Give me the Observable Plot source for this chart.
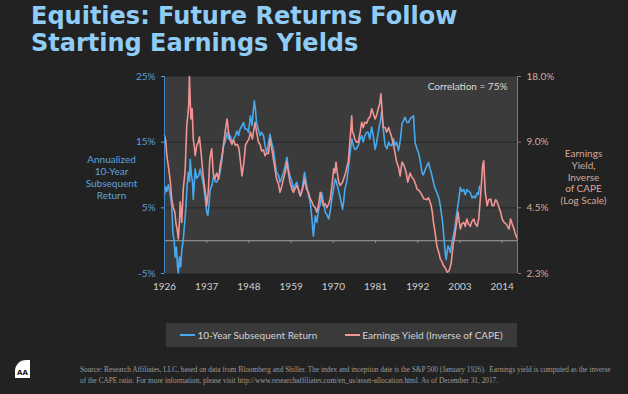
<!DOCTYPE html>
<html><head><meta charset="utf-8">
<script src="https://cdn.jsdelivr.net/npm/d3@7"></script>
<script src="https://cdn.jsdelivr.net/npm/@observablehq/plot@0.6"></script>
<style>
html,body{margin:0;padding:0;background:#222;}
#wrap{position:relative;width:628px;height:394px;overflow:hidden;background:#222222;font-family:Lato,sans-serif;}
#title{position:absolute;left:31px;top:3px;font-family:"DejaVu Sans",sans-serif;font-weight:bold;font-size:24px;line-height:27px;color:#8fcdf7;white-space:nowrap;}
#chart{position:absolute;left:0;top:0;}
#legend{position:absolute;left:166px;top:323px;width:351px;height:24px;background:#3a3a3a;display:flex;align-items:center;justify-content:center;gap:28px;font-size:10px;color:#d2d2d2;}
#legend .item{display:flex;align-items:center;}
#legend .sw{display:inline-block;width:15px;height:2px;margin-right:2px;}
#source{position:absolute;left:80px;top:364px;font-family:"Liberation Serif","DejaVu Serif",serif;font-size:7.3px;line-height:11px;color:#9c9c9c;white-space:nowrap;}
#logo{position:absolute;left:0;top:0;}
</style></head>
<body>
<div id="wrap">
  <div id="title">Equities: Future Returns Follow<br>Starting Earnings Yields</div>
  <div id="chart"></div>
  <div id="legend"></div>
  <svg id="logo" width="40" height="394" viewBox="0 0 40 394">
    <path d="M15,378 L15,371 A11,11 0 0 1 26,360 L30,360 L30,378 Z" fill="#ffffff"/>
    <text x="22.5" y="375" text-anchor="middle" font-family="DejaVu Sans" font-weight="bold" font-size="7" fill="#111">AA</text>
  </svg>
  <div id="source">Source: Research Affiliates, LLC, based on data from Bloomberg and Shiller. The index and inception date is the S&amp;P 500 (January 1926).&nbsp; Earnings yield is computed as the inverse<br>of the CAPE ratio. For more information, please visit http://www.researchaffiliates.com/en_us/asset-allocation.html. As of December 31, 2017.</div>
</div>
<script>
// ---- Data ----
const retYears = [1926.0,1926.3,1926.6,1927.0,1927.5,1927.9,1928.2,1928.5,1928.8,1929.1,1929.4,1929.6,1929.9,1930.2,1930.5,1930.9,1931.3,1931.6,1931.9,1932.2,1932.5,1932.7,1933.0,1933.3,1933.5,1933.8,1934.0,1934.4,1934.9,1935.3,1935.8,1936.2,1936.6,1937.0,1937.3,1937.6,1937.9,1938.4,1938.8,1939.2,1939.6,1940.1,1940.5,1941.0,1941.4,1941.8,1942.3,1942.7,1943.1,1943.6,1944.0,1944.5,1944.9,1945.3,1945.7,1946.2,1946.6,1947.0,1947.5,1947.9,1948.4,1948.8,1949.1,1949.4,1949.7,1950.0,1950.4,1950.9,1951.3,1951.8,1952.2,1952.6,1953.0,1953.5,1953.9,1954.4,1954.8,1955.2,1955.7,1956.1,1956.5,1957.0,1957.5,1957.9,1958.3,1958.7,1959.2,1959.6,1960.0,1960.5,1961.0,1961.4,1961.9,1962.5,1963.1,1963.5,1964.0,1964.4,1964.8,1965.3,1965.7,1966.2,1966.6,1967.0,1967.5,1967.9,1968.3,1968.8,1969.2,1969.6,1970.1,1970.5,1970.8,1971.2,1971.7,1972.0,1972.4,1972.7,1973.0,1973.5,1973.9,1974.3,1974.8,1975.2,1975.6,1976.0,1976.5,1977.0,1977.4,1977.8,1978.2,1978.7,1979.1,1979.5,1980.0,1980.4,1980.9,1981.3,1981.7,1982.2,1982.6,1983.0,1983.5,1984.0,1984.4,1984.8,1985.2,1985.7,1986.1,1986.5,1987.0,1987.5,1987.9,1988.3,1988.7,1989.2,1989.6,1990.0,1990.5,1990.9,1991.3,1991.8,1992.2,1992.7,1993.1,1993.4,1993.7,1994.0,1994.4,1994.8,1995.2,1995.5,1996.1,1996.5,1997.0,1997.5,1997.9,1998.2,1998.5,1999.0,1999.2,1999.4,1999.7,1999.9,2000.2,2000.5,2000.9,2001.3,2001.6,2001.9,2002.2,2002.7,2003.1,2003.5,2004.0,2004.4,2004.8,2005.3,2005.7,2006.2,2006.6,2007.0,2007.5,2007.8,2008.1];
const retValues = [7.0,8.2,7.5,8.5,7.0,5.3,1.0,0.2,-2.5,-1.0,-4.0,-4.9,-2.5,-4.0,-1.5,0.2,3.0,5.3,8.5,10.4,9.0,12.4,10.0,8.9,6.3,9.0,10.9,9.5,9.9,10.9,9.5,8.3,6.5,4.3,3.9,5.5,7.8,8.5,9.9,9.0,8.9,9.5,10.4,12.5,14.5,15.0,16.5,15.5,16.0,15.0,15.5,16.0,16.7,16.0,17.0,17.5,18.0,17.0,17.0,16.5,19.0,17.5,19.5,21.3,20.0,18.0,17.0,16.0,16.5,16.0,14.5,13.4,14.5,16.2,15.0,13.9,12.0,10.4,10.0,8.9,9.5,10.4,11.5,12.7,11.0,9.9,9.0,7.8,8.5,8.9,7.5,6.8,8.0,10.4,8.3,7.0,5.8,3.5,0.7,3.8,2.8,4.8,5.5,7.3,5.5,4.3,4.0,3.3,4.5,6.3,8.0,9.4,8.9,8.0,6.8,6.0,4.8,6.0,7.8,9.0,10.9,13.0,15.5,14.5,13.9,14.0,14.5,15.5,16.0,15.0,16.0,16.5,16.5,15.5,17.3,16.0,13.9,15.0,16.5,18.0,19.7,17.0,14.5,14.0,15.0,14.5,14.5,15.5,14.5,15.0,13.7,15.5,17.8,18.3,18.8,18.0,18.0,18.5,18.8,19.0,15.0,14.0,13.4,12.0,10.4,10.0,10.4,10.9,11.4,11.9,11.0,10.4,8.9,8.0,7.3,6.5,5.3,4.0,2.7,-0.8,-2.0,-2.9,-1.5,-0.8,-1.2,-1.8,-0.3,0.8,1.7,3.0,4.3,6.3,8.1,7.5,7.8,7.0,7.8,7.5,7.3,6.5,6.8,6.5,7.3,7.0,8.3];

const eyYears = [1926.0,1926.3,1926.6,1927.0,1927.5,1927.9,1928.3,1928.7,1929.0,1929.3,1929.6,1929.9,1930.1,1930.5,1930.9,1931.2,1931.4,1931.8,1932.1,1932.3,1932.5,1932.7,1932.9,1933.2,1933.5,1933.8,1934.0,1934.4,1934.8,1935.1,1935.4,1935.7,1936.0,1936.3,1936.7,1937.0,1937.4,1937.8,1938.3,1938.7,1939.1,1939.6,1940.1,1940.5,1941.0,1941.4,1941.8,1942.3,1942.7,1943.1,1943.6,1944.0,1944.5,1945.0,1945.4,1945.8,1946.2,1946.7,1947.1,1947.5,1948.0,1948.4,1948.9,1949.3,1949.6,1950.0,1950.5,1950.9,1951.3,1951.8,1952.2,1952.6,1953.1,1953.5,1953.9,1954.4,1954.8,1955.2,1955.7,1956.1,1956.5,1957.0,1957.5,1957.9,1958.3,1958.7,1959.2,1959.6,1960.0,1960.5,1961.0,1961.4,1961.9,1962.5,1963.0,1963.5,1964.0,1964.4,1964.8,1965.3,1965.7,1966.2,1966.6,1967.0,1967.4,1967.9,1968.3,1968.8,1969.2,1969.6,1970.1,1970.4,1970.7,1971.0,1971.4,1971.8,1972.1,1972.4,1972.8,1973.2,1973.6,1973.9,1974.3,1974.6,1974.8,1975.0,1975.3,1975.6,1976.0,1976.5,1977.0,1977.4,1977.8,1978.2,1978.7,1979.1,1979.6,1980.0,1980.4,1980.9,1981.3,1981.7,1982.1,1982.4,1982.7,1983.0,1983.5,1983.9,1984.4,1984.8,1985.2,1985.7,1986.1,1986.5,1987.0,1987.4,1987.9,1988.3,1988.7,1989.0,1989.4,1990.0,1990.5,1990.9,1991.4,1991.8,1992.3,1992.7,1993.2,1993.6,1994.0,1994.4,1994.8,1995.2,1995.5,1995.8,1996.1,1996.5,1997.0,1997.5,1997.9,1998.3,1998.7,1999.1,1999.4,1999.7,2000.0,2000.3,2000.7,2001.0,2001.3,2001.6,2001.9,2002.2,2002.5,2002.8,2003.1,2003.5,2004.0,2004.4,2004.8,2005.2,2005.7,2006.1,2006.6,2007.0,2007.5,2007.9,2008.3,2008.6,2008.9,2009.2,2009.4,2009.6,2010.1,2010.5,2011.0,2011.4,2011.8,2012.3,2012.7,2013.2,2013.6,2014.0,2014.5,2015.0,2015.4,2015.8,2016.2,2016.6,2017.1,2017.5,2018.0];
const eyValues = [9.7,9.2,7.8,7.0,6.0,4.9,4.5,4.3,3.8,3.6,3.24,3.9,4.8,3.86,5.5,6.2,6.8,10.7,12.0,13.3,18.0,14.0,11.5,12.8,9.3,8.5,7.8,8.7,9.0,9.5,8.5,7.5,6.5,5.9,5.2,4.6,5.3,7.5,8.4,6.5,6.1,6.5,6.1,7.0,7.8,8.8,10.0,11.5,10.0,9.2,8.8,9.2,8.7,8.8,8.4,7.3,6.3,7.3,8.7,9.0,9.3,10.0,9.3,10.3,11.1,10.0,9.0,8.8,8.2,8.3,7.8,8.0,8.0,9.3,8.5,7.5,6.8,6.1,5.8,5.3,5.6,6.1,6.6,7.3,6.5,5.9,5.5,5.3,5.5,5.7,5.4,5.1,5.4,6.1,5.5,5.3,4.94,4.8,4.6,4.5,4.3,4.7,5.3,4.9,4.6,4.7,4.5,4.7,4.94,5.6,6.8,6.5,7.3,6.6,5.9,5.7,5.8,5.9,6.2,6.5,7.0,7.3,9.0,10.5,11.9,10.0,9.8,9.3,9.0,9.0,10.0,11.1,10.5,11.1,11.0,11.5,11.8,12.8,12.2,11.5,12.0,12.8,13.5,15.0,12.5,10.5,10.5,10.0,10.5,10.0,9.5,8.7,8.0,7.3,6.9,6.3,7.3,7.1,6.8,6.5,5.9,6.5,6.2,6.1,5.8,5.5,5.4,5.3,5.1,4.94,4.94,4.9,5.0,4.8,4.6,4.3,3.86,3.5,3.0,2.8,2.62,2.55,2.44,2.4,2.34,2.28,2.3,2.35,2.5,2.8,3.12,3.3,3.6,3.9,4.3,3.9,3.6,3.8,3.86,3.7,4.0,3.8,3.7,3.9,4.0,3.8,3.7,4.0,4.94,5.8,7.0,7.4,6.2,5.3,4.6,4.9,4.94,4.6,4.6,4.9,4.8,4.5,4.3,4.0,3.86,3.8,3.7,3.6,4.0,3.8,3.6,3.4,3.24];

const xTicks = [1926,1937,1948,1959,1970,1981,1992,2003,2014];
const retTicks = [-5,5,15,25];
const eyTicks = [18,9,4.5,2.25];
const seriesNames = ["10-Year Subsequent Return","Earnings Yield (Inverse of CAPE)"];
const colors = {ret:"#47aaee", ey:"#f29494"};

// map the log-scale earnings yield onto the left (return) axis: 2.25%..18% <-> -5%..25%
const eyToLeft = ey => -5 + 10 * Math.log2(ey / 2.25);
const leftToEy = v => 2.25 * Math.pow(2, (v + 5) / 10);

const ret = retYears.map((x,i)=>({x, v: retValues[i]}));
const ey = eyYears.map((x,i)=>({x, v: eyValues[i]}));

const chart = Plot.plot({
  width: 628, height: 300,
  marginLeft: 164, marginRight: 111, marginTop: 76, marginBottom: 27,
  style: {background: "transparent", fontFamily: "Lato, sans-serif", fontSize: "10px"},
  x: {domain: [1926, 2018]},
  y: {domain: [-5, 25]},
  marks: [
    Plot.frame({fill: "#3b3b3b", stroke: null}),
    Plot.ruleY([5, 15], {stroke: "#272727", strokeWidth: 1}),
    Plot.ruleY([0], {stroke: "#8c8c8c", strokeWidth: 1.2}),
    Plot.ruleX(xTicks, {y1: 0, y2: -0.45, stroke: "#8c8c8c"}),
    Plot.line(ret, {x: "x", y: "v", stroke: colors.ret, strokeWidth: 1.6}),
    Plot.line(ey, {x: "x", y: d => eyToLeft(d.v), stroke: colors.ey, strokeWidth: 1.6}),
    Plot.ruleX([1926], {stroke: "#3d86c8", strokeWidth: 1}),
    Plot.ruleX([2018], {stroke: "#a86a6a", strokeWidth: 1}),
    Plot.axisY(retTicks, {anchor: "left", tickSize: 3, tickPadding: 6, color: "#5d9fd8", tickFormat: d => d + "%", label: null, fontSize: 10}),
    Plot.axisY(eyTicks.map(eyToLeft), {anchor: "right", tickSize: 3, tickPadding: 6, color: "#d6a99c", stroke: "#a86a6a", tickFormat: v => leftToEy(v).toFixed(1) + "%", label: null, fontSize: 10}),
    Plot.axisX(xTicks, {anchor: "bottom", tickSize: 0, tickPadding: 9, color: "#d0d0d0", tickFormat: d => String(d), label: null, fontSize: 10}),
    Plot.text(["Annualized\n10-Year\nSubsequent\nReturn"], {frameAnchor: "left", dx: -53, dy: 2, textAnchor: "middle", lineHeight: 1.2, fill: "#5fa3dc", fontSize: 10}),
    Plot.text(["Earnings\nYield,\nInverse\nof CAPE\n(Log Scale)"], {frameAnchor: "right", dx: 66, dy: 2, textAnchor: "middle", lineHeight: 1.17, fill: "#d4a898", fontSize: 10}),
    Plot.text(["Correlation = 75%"], {frameAnchor: "top-right", dx: -10, dy: 6, fill: "#dcdcdc", fontSize: 10})
  ]
});
document.getElementById("chart").appendChild(chart);

const legend = document.getElementById("legend");
[["ret", seriesNames[0]], ["ey", seriesNames[1]]].forEach(([k, name]) => {
  const item = document.createElement("div");
  item.className = "item";
  const sw = document.createElement("span");
  sw.className = "sw";
  sw.style.background = colors[k];
  item.appendChild(sw);
  const t = document.createElement("span");
  t.textContent = name;
  item.appendChild(t);
  legend.appendChild(item);
});
</script>
</body></html>
